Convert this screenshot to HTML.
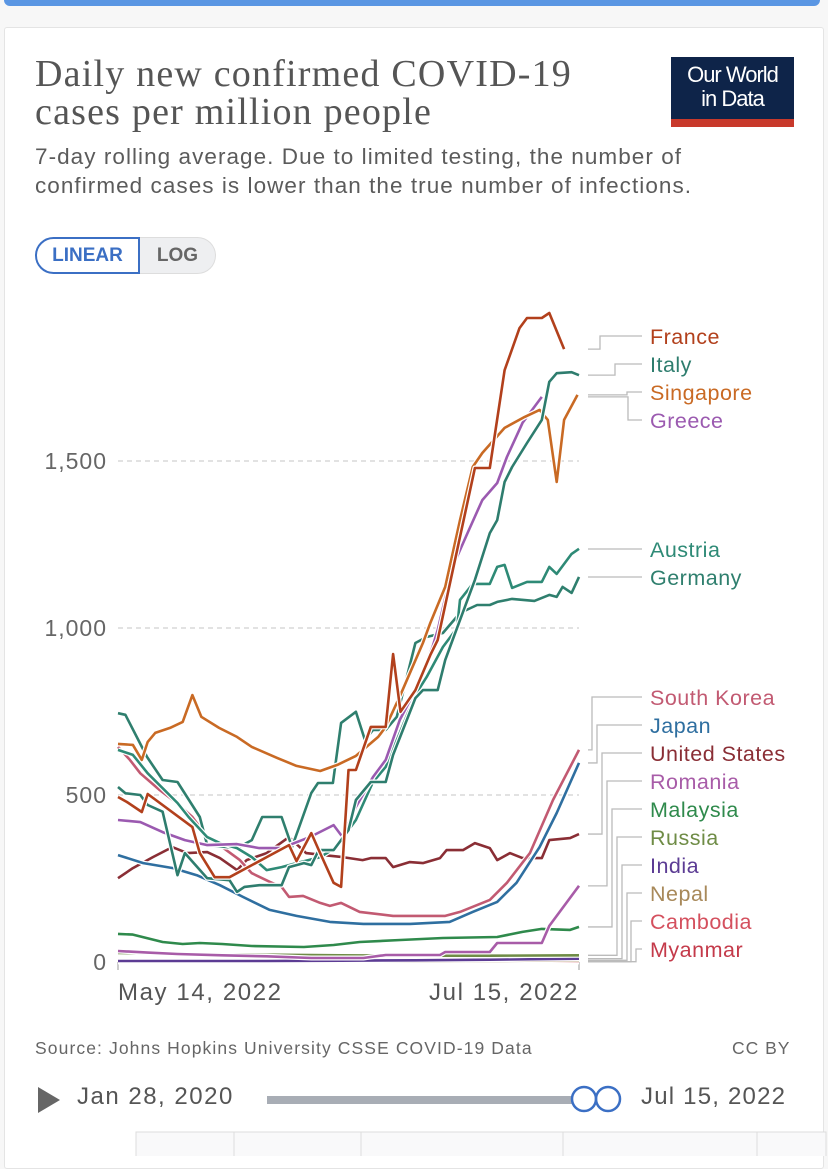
<!DOCTYPE html>
<html><head><meta charset="utf-8">
<style>
body{margin:0;width:828px;height:1156px;background:#f7f7f7;overflow:hidden;font-family:"Liberation Sans",sans-serif;position:relative}
.topbar{position:absolute;left:4px;top:0;width:816px;height:6px;background:#5a96e3;border-radius:0 0 6px 6px}
.card{position:absolute;left:4px;top:27px;width:818px;height:1140px;background:#fff;border:1px solid #e4e4e4;border-radius:3px}
.title{position:absolute;left:35px;top:55px;font-family:"Liberation Serif",serif;font-size:38px;line-height:38px;color:#555;letter-spacing:1.2px}
.sub{position:absolute;left:35px;top:142px;font-size:22.5px;line-height:29px;color:#5b5b5b;letter-spacing:1.05px}
.logo{position:absolute;left:671px;top:57px;width:123px;height:70px;background:#0e2449;color:#fff;text-align:center;font-size:22px;line-height:24px;padding-top:6px;box-sizing:border-box;letter-spacing:-1px}
.logo:after{content:"";position:absolute;left:0;bottom:0;width:100%;height:8px;background:#c8392b}
.btns{position:absolute;left:35px;top:237px;height:37px;display:flex;font-size:19px;font-weight:bold}
.b1{width:105px;border:2px solid #3b6fc4;border-radius:19px 0 0 19px;color:#3b6fc4;display:flex;align-items:center;justify-content:center;box-sizing:border-box}
.b2{width:76px;background:#eeeff1;border:1px solid #ddd;border-left:none;border-radius:0 19px 19px 0;color:#666;display:flex;align-items:center;justify-content:center;box-sizing:border-box}
svg{position:absolute;left:0;top:0}
.src{position:absolute;left:35px;top:1038px;font-size:17.5px;color:#666;letter-spacing:1.1px}
.cc{position:absolute;left:732px;top:1038px;font-size:17.5px;color:#666;letter-spacing:1px}
.d1{position:absolute;left:77px;top:1083px;font-size:24px;color:#555;letter-spacing:1.5px}
.d2{position:absolute;left:641px;top:1083px;font-size:24px;color:#555;letter-spacing:1.2px}
</style></head><body>
<div class="topbar"></div>
<div class="card"></div>
<div class="title">Daily new confirmed COVID-19<br>cases per million people</div>
<div class="logo">Our World<br>in Data</div>
<div class="sub">7-day rolling average. Due to limited testing, the number of<br>confirmed cases is lower than the true number of infections.</div>
<div class="btns"><div class="b1">LINEAR</div><div class="b2">LOG</div></div>
<svg id="chart" width="828" height="1156"></svg>
<div class="src">Source: Johns Hopkins University CSSE COVID-19 Data</div>
<div class="cc">CC BY</div>
<svg width="828" height="1156" style="pointer-events:none">
<polygon points="38,1087 38,1113 60,1100" fill="#666"/>
<rect x="267" y="1096" width="330" height="8" fill="#a8adb5"/>
<circle cx="584" cy="1099" r="12" fill="#fff" stroke="#3b6fc4" stroke-width="2.5"/>
<circle cx="608" cy="1099" r="12" fill="none" stroke="#3b6fc4" stroke-width="2.5"/>
<rect x="136" y="1132" width="690" height="30" fill="#f9f9fa" stroke="#ddd"/>
<line x1="234" y1="1132" x2="234" y2="1156" stroke="#ddd"/><line x1="361" y1="1132" x2="361" y2="1156" stroke="#ddd"/><line x1="563" y1="1132" x2="563" y2="1156" stroke="#ddd"/><line x1="757" y1="1132" x2="757" y2="1156" stroke="#ddd"/>
</svg>
<div class="d1">Jan 28, 2020</div>
<div class="d2">Jul 15, 2022</div>
<script>
const yTicks=[0,500,1000,1500];
const yTickLabels=["0","500","1,000","1,500"];
const xTickDays=[0,62];
const xTickLabels=["May 14, 2022","Jul 15, 2022"];
const seriesNames=["France","Italy","Singapore","Greece","Austria","Germany","South Korea","Japan","United States","Romania","Malaysia","Russia","India","Nepal","Cambodia","Myanmar"];
const seriesColors=["#b2401c","#2e7d6e","#c96a24","#9b5ab0","#2e8a76","#2f7f6e","#c25a72","#2f6fa0","#8a2e35","#a85ca8","#2f8a4c","#6f8c46","#5c3c94","#a8895a","#d4505e","#c43a4a"];
const france=[[0,494],[1.2,479],[3.2,449],[4,503],[10,404],[11,326],[13,254],[15,254],[20,314],[23,350],[24,302],[26,386],[27,335],[29,237],[30,225],[31,575],[32,575],[34,704],[36,704],[37,922],[38,749],[40,814],[42,919],[43,964],[48,1479],[50,1479],[52,1772],[54,1898],[55,1928],[57,1928],[58,1943],[60,1835]];
const italy=[[0,524],[1,505],[3,500],[4,470],[6,450],[8,260],[9,326],[12,251],[15,245],[16,210],[17,225],[19,230],[22,230],[23,284],[25,296],[26,290],[27,335],[29,335],[31,395],[32,485],[34,539],[36,539],[37,620],[40,790],[41,814],[43,814],[44,904],[45,964],[48,1144],[50,1284],[51,1323],[52,1437],[53,1482],[55,1554],[57,1623],[58,1737],[59,1763],[61,1766],[62,1757]];
const singapore=[[0,653],[2,650],[3.2,605],[4,659],[5,686],[7,701],[8.7,719],[10,799],[11.2,734],[13.6,701],[16,674],[18,644],[21.4,611],[24,587],[27.2,572],[29.5,590],[32,617],[35,674],[36,704],[38,800],[41,955],[42,1015],[44,1123],[46,1323],[47.7,1482],[49,1524],[52,1599],[54.7,1632],[56.7,1653],[57.8,1623],[59,1437],[60,1623],[61.8,1698]];
const greece=[[0,425],[3,419],[6,389],[9,365],[12,350],[16,353],[19,341],[22,341],[25.8,374],[29,410],[30.2,374],[32,464],[34.3,554],[36,605],[37.9,725],[40,814],[42.3,943],[43,994],[45,1183],[47,1284],[49,1383],[51,1434],[52.3,1512],[54.4,1614],[57,1692]];
const austria=[[0,635],[2,620],[4,565],[8,476],[9.5,434],[12,374],[13.7,356],[16,341],[18,314],[20,275],[22,284],[24,296],[27.2,314],[29.4,344],[30.8,389],[32,425],[34.3,539],[36,584],[37.9,686],[40,800],[41.5,853],[43.7,943],[45.6,1000],[46,1084],[47.7,1132],[50,1132],[51,1183],[52,1189],[53,1120],[55,1138],[57,1138],[58,1183],[59,1162],[61,1222],[62,1237]];
const germany=[[0,745],[1,740],[3.9,614],[6,545],[8,539],[11,434],[12,350],[16,341],[18,365],[19.4,434],[22,434],[23.4,344],[26,506],[26.9,536],[28.9,536],[30,716],[32,749],[33.2,665],[34.3,695],[36,695],[37.5,734],[40,955],[41.5,973],[43.7,985],[46,1045],[48.3,1069],[50,1069],[51,1078],[53,1087],[56,1081],[58,1099],[59,1093],[59.8,1123],[61,1105],[62,1153]];
const southKorea=[[0,644],[1.6,605],[3,565],[5.6,515],[7.9,476],[10,434],[12,374],[14,344],[16.4,305],[18,266],[20.4,240],[22,225],[23,195],[24.9,198],[27.2,177],[28.5,168],[30,177],[32.5,150],[37,138],[44,138],[46,150],[50,186],[52.3,237],[55.4,326],[58.5,485],[62,635]];
const japan=[[0,320],[3.4,296],[7.4,281],[10.6,260],[13.7,230],[16.8,195],[20.4,156],[24,138],[28.5,120],[33,114],[39.3,114],[44.6,120],[47.7,150],[51,180],[53.6,237],[56.7,344],[59,446],[62,596]];
const unitedStates=[[0,251],[2,281],[4.7,314],[7.3,344],[9.3,326],[12,329],[13.7,311],[16,275],[17.3,305],[20,326],[23,374],[25.3,326],[27.6,320],[30.2,314],[32.9,305],[34,311],[36,311],[37,284],[39.2,299],[41,296],[43.3,311],[44.2,335],[46.4,335],[48,356],[50,341],[51,305],[52.7,326],[54.4,311],[57,311],[58,365],[60.8,371],[62,383]];
const romania=[[0,33],[4,28],[8,24],[14,20],[20,17],[26,12],[33,12],[36,21],[43.3,21],[44,30],[50,30],[51,57],[57,57],[58,108],[62,228]];
const malaysia=[[0,84],[2,82],[6,60],[8.7,54],[11,57],[14,54],[18,48],[25,45],[29,51],[32.5,60],[38,66],[43.7,72],[51,75],[54.4,90],[57,99],[60.8,96],[62,105]];
const russia=[[0,27],[10,24],[20,22],[30,20],[40,19],[50,19],[62,20]];
const india=[[0,3],[20,3],[30,4],[40,5],[50,7],[62,10]];
const nepal=[[0,1],[30,1],[45,2],[62,5]];
const cambodia=[[0,1],[30,0.5],[62,1]];
const myanmar=[[0,2],[30,1],[62,1]];
const allSeries=[france,italy,singapore,greece,austria,germany,southKorea,japan,unitedStates,romania,malaysia,russia,india,nepal,cambodia,myanmar];
const labelY=[336,364,392,420,549,577,697,725,753,781,809,837,865,893,921,949];
const elbowX=[600,615,627,628,0,0,592,597,602,607,612,617,622,627,631,636];

const NS="http://www.w3.org/2000/svg";
const svg=document.getElementById('chart');
const X0=118,X1=579,Y0=962,Y1500=461;
function xScale(d){return X0+(d-0)/(62-0)*(X1-X0);}
function yScale(v){return Y0-(v/1500)*(Y0-Y1500);}
function mk(tag,attrs){const e=document.createElementNS(NS,tag);for(const k in attrs)e.setAttribute(k,attrs[k]);svg.appendChild(e);return e;}

yTicks.forEach((t,i)=>{
  if(t>0){const g=mk('line',{x1:X0,x2:X1,y1:yScale(t),y2:yScale(t),stroke:'#d8d8d8','stroke-dasharray':'5,4','stroke-width':1.5});
  
  }
  const tx=mk('text',{x:107,y:yScale(t)+8,'text-anchor':'end','font-size':23,fill:'#666','font-family':'Liberation Sans','letter-spacing':1});
  
  
  tx.textContent=yTickLabels[i];
});
xTickDays.forEach((d,i)=>{
  const l=mk('line',{x1:xScale(d),x2:xScale(d),y1:Y0,y2:Y0+8,stroke:'#999'});
  
  
  const tx=mk('text',{x:xScale(d),y:1000,'text-anchor':i==0?'start':'end','font-size':24,fill:'#555','font-family':'Liberation Sans','letter-spacing':1.6});
  
  
  tx.textContent=xTickLabels[i];
});
for(let i=allSeries.length-1;i>=0;i--){
  const s=allSeries[i];
  const pts=s.map(p=>xScale(p[0]).toFixed(1)+','+yScale(p[1]).toFixed(1)).join(' ');
  const bg=mk('polyline',{points:pts,fill:'none',stroke:'#fff','stroke-width':5,'stroke-linejoin':'round'});
  
  
  const pl=mk('polyline',{points:pts,fill:'none',stroke:seriesColors[i],'stroke-width':2.6,'stroke-linejoin':'round'});
  
  
}
allSeries.forEach((s,i)=>{
  const last=s[s.length-1];
  const ys=yScale(last[1]);
  const ly=labelY[i];
  const ex=elbowX[i];
  const d=ex?`M588,${ys} H${ex} V${ly} H642`:`M588,${ly} H642`;
  const c=mk('path',{d:d,fill:'none',stroke:'#bbb','stroke-width':1.3});
  
  
  const tx=mk('text',{x:650,y:ly+8,'font-size':21.5,fill:seriesColors[i],'font-family':'Liberation Sans','letter-spacing':0.5});
  
  
  tx.textContent=seriesNames[i];
});
</script>
</body></html>
